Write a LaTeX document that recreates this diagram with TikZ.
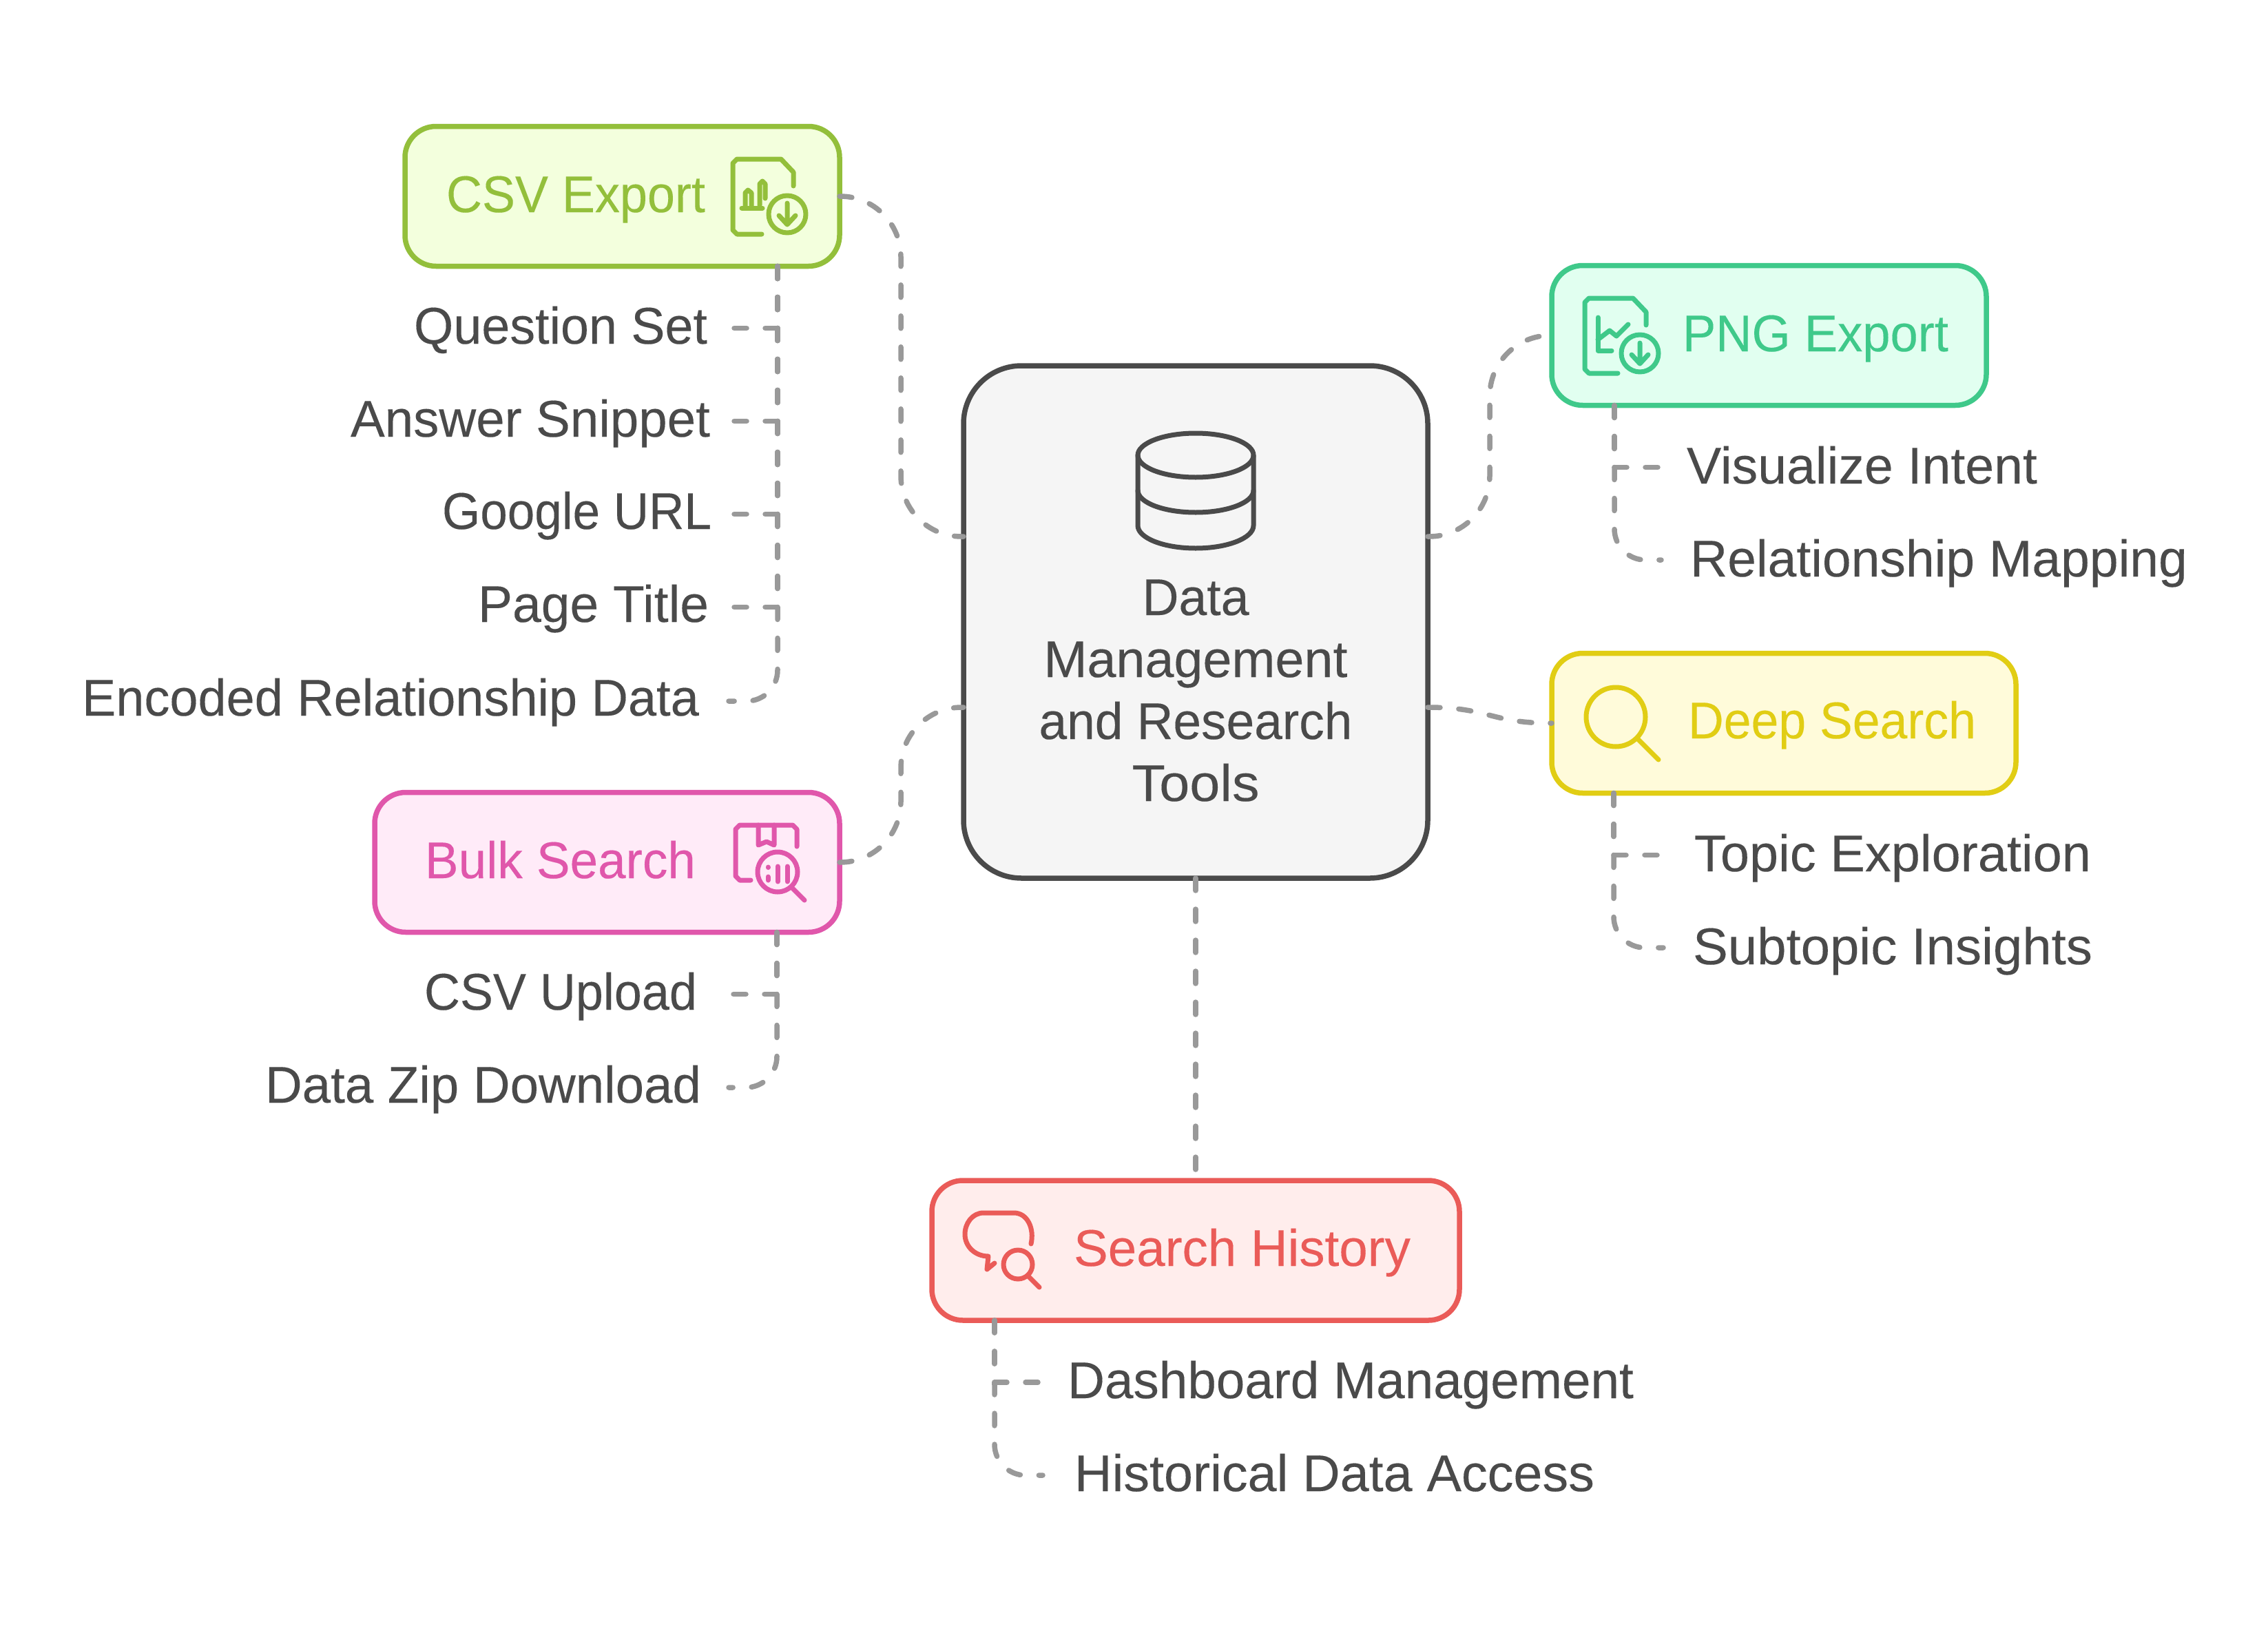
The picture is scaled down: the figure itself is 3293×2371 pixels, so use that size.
\documentclass[tikz,border=0pt]{standalone}
\usepackage{graphicx}
\usepackage{fontspec}
\setmainfont[FakeBold=0.15]{Liberation Sans}
\definecolor{ink}{HTML}{4A4A4A}
\definecolor{wire}{HTML}{999999}
\definecolor{csvS}{HTML}{93BF3B}\definecolor{csvF}{HTML}{F3FFDD}
\definecolor{pngS}{HTML}{3FC98A}\definecolor{pngF}{HTML}{E1FFF0}
\definecolor{deepS}{HTML}{E1CD14}\definecolor{deepF}{HTML}{FFFBDA}
\definecolor{bulkS}{HTML}{E057AB}\definecolor{bulkF}{HTML}{FFEBF8}
\definecolor{histS}{HTML}{EA5B58}\definecolor{histF}{HTML}{FFEDEC}
\definecolor{hubS}{HTML}{4A4A4A}\definecolor{hubF}{HTML}{F5F5F5}
\newsavebox{\fitbox}
\newcommand{\fitw}[2]{\sbox{\fitbox}{#2}\pgfmathsetmacro{\fitr}{#1/\the\wd\fitbox}\scalebox{\fitr}[1]{#2}}
\tikzset{
  card/.style={draw=#1S,fill=#1F,line width=7.5pt,rounded corners=45pt,inner sep=0pt,outer sep=0pt},
  lab/.style={anchor=base west,inner sep=0pt,outer sep=0pt,text=ink,font=\fontsize{75}{90}\selectfont},
  conn/.style={draw=wire,line width=7.5pt,line cap=round,dash pattern=on 18pt off 27pt},
  curvy/.style={conn,rounded corners=#1},
  icon/.style={draw=#1,line width=7pt,line cap=round,line join=round}
}
\begin{document}
\begin{tikzpicture}[x=1pt,y=-1pt]
\useasboundingbox (0,0) rectangle (3293,2371);
\fill[white] (0,0) rectangle (3293,2371);
% cards
\node[card=hub,rounded corners=84pt,minimum width=674pt,minimum height=744pt] (hub) at (1736,903) {};
\node[card=csv,minimum width=631pt,minimum height=203pt] (csv) at (903.5,285) {};
\node[card=png,minimum width=631pt,minimum height=203pt] (png) at (2568.5,487) {};
\node[card=deep,minimum width=674pt,minimum height=203pt] (deep) at (2590,1050) {};
\node[card=bulk,minimum width=675pt,minimum height=203pt] (bulk) at (881.5,1252) {};
\node[card=hist,minimum width=766pt,minimum height=203pt] (hist) at (1736,1815.5) {};
% card labels
\node[lab,text=csvS] (csvL) at (648,308) {\fitw{376}{CSV Export}};
\node[lab,text=pngS] (pngL) at (2443,510) {\fitw{386}{PNG Export}};
\node[lab,text=deepS] (deepL) at (2451,1072) {\fitw{418}{Deep Search}};
\node[lab,text=bulkS] (bulkL) at (617,1275) {\fitw{393}{Bulk Search}};
\node[lab,text=histS] (histL) at (1559,1838) {\fitw{489}{Search History}};
% hub label
\node[lab,anchor=base,align=center] (hubL) at (1736,1163) {\fitw{155}{Data}\\\fitw{441}{Management}\\\fitw{455}{and Research}\\\fitw{185}{Tools}};
% items
\node[lab] (i1) at (601,499) {\fitw{426}{Question Set}};
\node[lab] (i2) at (509,634) {\fitw{522}{Answer Snippet}};
\node[lab] (i3) at (642,768) {\fitw{391}{Google URL}};
\node[lab] (i4) at (694,903) {\fitw{335}{Page Title}};
\node[lab] (i5) at (119,1039) {\fitw{896}{Encoded Relationship Data}};
\node[lab] (b1) at (616,1466) {\fitw{396}{CSV Upload}};
\node[lab] (b2) at (385,1601) {\fitw{633}{Data Zip Download}};
\node[lab] (p1) at (2449,702) {\fitw{509}{Visualize Intent}};
\node[lab] (p2) at (2454,837) {\fitw{722}{Relationship Mapping}};
\node[lab] (d1) at (2460,1265) {\fitw{576}{Topic Exploration}};
\node[lab] (d2) at (2458,1400) {\fitw{580}{Subtopic Insights}};
\node[lab] (h1) at (1550,2030) {\fitw{822}{Dashboard Management}};
\node[lab] (h2) at (1560,2165) {\fitw{755}{Historical Data Access}};
% anchors for connectors
\coordinate (hubA) at (1399,779);
\coordinate (hubB) at (1399,1027);
\coordinate (hubC) at (2073,779);
\coordinate (hubD) at (2073,1027);
\coordinate (csvT) at ([xshift=225.5pt]csv.south);
\coordinate (bulkT) at ([xshift=246.5pt]bulk.south);
\coordinate (pngT) at ([xshift=-224.5pt]png.south);
\coordinate (deepT) at ([xshift=-247pt]deep.south);
\coordinate (histT) at ([xshift=-292pt]hist.south);
\coordinate (e1) at (1062,476.5);
\coordinate (e2) at (1062,611.5);
\coordinate (e3) at (1062,746.5);
\coordinate (e4) at (1062,881.5);
\coordinate (e5) at (1058,1018);
\coordinate (e6) at (1063,1443.5);
\coordinate (e7) at (1058,1579);
\coordinate (e8) at (2411,678.5);
\coordinate (e9) at (2412,813);
\coordinate (e10) at (2411,1241.5);
\coordinate (e11) at (2415,1376);
\coordinate (e12) at (1510,2007);
\coordinate (e13) at (1514,2142);
% hub connectors
\draw[curvy=88pt] (csv.east) -- (1308,285) -- (1308,779) -- (hubA);
\draw[curvy=88pt] (bulk.east) -- (1308,1252) -- (1308,1027) -- (hubB);
\draw[curvy=88pt] (hubC) -- (2163,779) -- (2163,487) -- (png.west);
\draw[conn] (hubD) .. controls (2163,1027) and (2163,1050) .. (deep.west);
\draw[conn] (hub.south) -- (hist.north);
% item connectors
\draw[conn] (csvT) -- (csvT |- e1) -- (e1);
\draw[conn] (csvT) -- (csvT |- e2) -- (e2);
\draw[conn] (csvT) -- (csvT |- e3) -- (e3);
\draw[conn] (csvT) -- (csvT |- e4) -- (e4);
\draw[curvy=45pt] (csvT) -- (csvT |- e5) -- (e5);
\draw[conn] (bulkT) -- (bulkT |- e6) -- (e6);
\draw[curvy=45pt] (bulkT) -- (bulkT |- e7) -- (e7);
\draw[conn] (pngT) -- (pngT |- e8) -- (e8);
\draw[curvy=45pt] (pngT) -- (pngT |- e9) -- (e9);
\draw[conn] (deepT) -- (deepT |- e10) -- (e10);
\draw[curvy=45pt] (deepT) -- (deepT |- e11) -- (e11);
\draw[conn] (histT) -- (histT |- e12) -- (e12);
\draw[curvy=45pt] (histT) -- (histT |- e13) -- (e13);
% database icon
\draw[icon=ink] (1736,661) ellipse [x radius=84pt,y radius=32pt];
\draw[icon=ink] (1652,661) -- (1652,763) arc [start angle=180,end angle=360,x radius=84pt,y radius=33pt] -- (1820,661);
\draw[icon=ink] (1652,712) arc [start angle=180,end angle=360,x radius=84pt,y radius=32pt];
% csv icon
\draw[icon=csvS] (1152,270) -- (1152,250) -- (1134,231) -- (1070,231) -- (1064,237) -- (1064,334) -- (1070,340) -- (1106,340);
\draw[icon=csvS] (1143,311) circle [radius=27pt];
\draw[icon=csvS] (1143,295) -- (1143,325) (1131,313) -- (1143,326) -- (1155,313);
\draw[icon=csvS] (1077,302) -- (1107,302);
\draw[icon=csvS] (1082,302) -- (1082,280) -- (1086,276) -- (1091,280) -- (1091,302);
\draw[icon=csvS] (1103,298) -- (1103,267) -- (1107,263) -- (1111,267) -- (1111,288);
% png icon
\draw[icon=pngS] (2390,472) -- (2390,453) -- (2371,433) -- (2307,433) -- (2301,439) -- (2301,536) -- (2307,542) -- (2349,542);
\draw[icon=pngS] (2381,513) circle [radius=27pt];
\draw[icon=pngS] (2381,498) -- (2381,527) (2369,515) -- (2381,528) -- (2393,515);
\draw[icon=pngS] (2320,461) -- (2320,509) -- (2340,509);
\draw[icon=pngS] (2320,493) -- (2337,480) -- (2347,488) -- (2364,471);
% deep icon
\draw[icon=deepS] (2346,1041) circle [radius=43pt];
\draw[icon=deepS] (2378,1073) -- (2408,1103);
% bulk icon
\draw[icon=bulkS] (1090,1278) -- (1074,1278) -- (1068,1272) -- (1068,1204) -- (1074,1198) -- (1151,1198) -- (1157,1204) -- (1157,1229);
\draw[icon=bulkS] (1101,1198) -- (1101,1227) -- (1113,1222) -- (1124,1227) -- (1124,1198);
\draw[icon=bulkS] (1129,1266) circle [radius=29pt];
\draw[icon=bulkS] (1150,1289) -- (1168,1307);
\draw[icon=bulkS] (1115,1259) -- (1115,1259.5) (1115,1273) -- (1115,1278) (1129,1258) -- (1129,1280) (1143,1258) -- (1143,1280);
% history icon
\draw[icon=histS] (1497,1806) .. controls (1502,1784) and (1492,1761) .. (1472,1761) -- (1428,1761) .. controls (1412,1761) and (1401,1776) .. (1401,1792) .. controls (1401,1810) and (1416,1824) .. (1435,1824) -- (1433,1843) -- (1444,1834);
\draw[icon=histS] (1478,1836) circle [radius=21pt];
\draw[icon=histS] (1493,1853) -- (1509,1869);
\end{tikzpicture}
\end{document}
